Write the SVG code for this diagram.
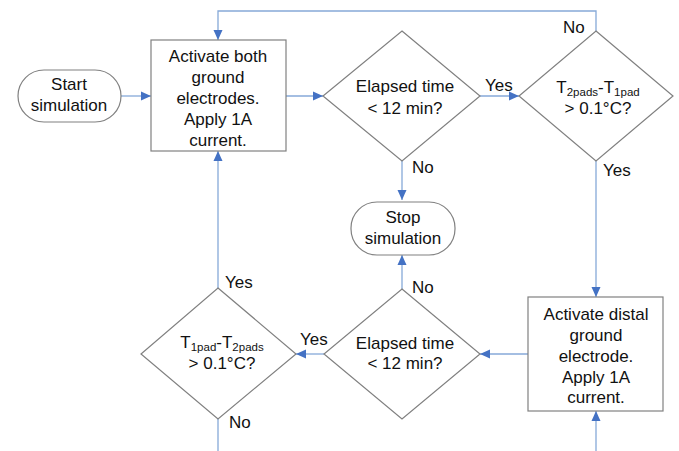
<svg xmlns="http://www.w3.org/2000/svg" width="679" height="451" viewBox="0 0 679 451">
<style>
.node{fill:#fff;stroke:#808080;stroke-width:1.2}
.t{font-family:"Liberation Sans",Arial,sans-serif;font-size:17px;fill:#111;text-anchor:middle}
.lbl{font-family:"Liberation Sans",Arial,sans-serif;font-size:17px;fill:#111}
.sub{font-size:11.5px}
.c{fill:none;stroke:#86a9d8;stroke-width:1.3}
</style>
<defs>
<marker id="ah" markerUnits="userSpaceOnUse" markerWidth="10" markerHeight="10" viewBox="0 0 10 10" refX="10" refY="5" orient="auto">
<path d="M0,0.5 L10,5 L0,9.5 Z" fill="#4472c4"/>
</marker>
</defs>
<rect width="679" height="451" fill="#fff"/>
<g id="connectors">
<path class="c" d="M121,96 H151" marker-end="url(#ah)"/>
<path class="c" d="M286,96 H323" marker-end="url(#ah)"/>
<path class="c" d="M480,96 H519" marker-end="url(#ah)"/>
<path class="c" d="M596,31 V11 H218 V40" marker-end="url(#ah)"/>
<path class="c" d="M402,161 V200" marker-end="url(#ah)"/>
<path class="c" d="M596,161 V297" marker-end="url(#ah)"/>
<path class="c" d="M402,289 V255" marker-end="url(#ah)"/>
<path class="c" d="M528,354 H480" marker-end="url(#ah)"/>
<path class="c" d="M324,354 H296" marker-end="url(#ah)"/>
<path class="c" d="M218,288 V151" marker-end="url(#ah)"/>
<path class="c" d="M218,419 V451"/>
<path class="c" d="M596,451 V411" marker-end="url(#ah)"/>
</g>
<g id="start">
<rect class="node" x="18" y="70" width="103" height="52" rx="26" ry="26"/>
<text class="t" x="69" y="90">Start</text>
<text class="t" x="69" y="111">simulation</text>
</g>
<g id="activate-both">
<rect class="node" x="151" y="40" width="135" height="111"/>
<text class="t" x="218" y="62">Activate both</text>
<text class="t" x="218" y="83">ground</text>
<text class="t" x="218" y="104">electrodes.</text>
<text class="t" x="218" y="125">Apply 1A</text>
<text class="t" x="218" y="146">current.</text>
</g>
<g id="elapsed-1">
<polygon class="node" points="402,31 480,96 402,161 323,96"/>
<text class="t" x="405" y="92">Elapsed time</text>
<text class="t" x="405" y="114">&lt; 12 min?</text>
</g>
<g id="temp-1">
<polygon class="node" points="596,31 673,96 596,161 519,96"/>
<text class="t" x="598" y="93">T<tspan class="sub" dy="3">2pads</tspan><tspan dy="-3">-T</tspan><tspan class="sub" dy="3">1pad</tspan></text>
<text class="t" x="598" y="114">&gt; 0.1°C?</text>
</g>
<g id="stop">
<rect class="node" x="351" y="202" width="104" height="53" rx="26" ry="26"/>
<text class="t" x="403" y="223">Stop</text>
<text class="t" x="403" y="244">simulation</text>
</g>
<g id="activate-distal">
<rect class="node" x="528" y="297" width="135" height="114"/>
<text class="t" x="596" y="320">Activate distal</text>
<text class="t" x="596" y="341">ground</text>
<text class="t" x="596" y="362">electrode.</text>
<text class="t" x="596" y="383">Apply 1A</text>
<text class="t" x="596" y="403">current.</text>
</g>
<g id="elapsed-2">
<polygon class="node" points="402,289 480,354 402,419 324,354"/>
<text class="t" x="405" y="349">Elapsed time</text>
<text class="t" x="405" y="369">&lt; 12 min?</text>
</g>
<g id="temp-2">
<polygon class="node" points="218,288 296,354 218,419 141,354"/>
<text class="t" x="222" y="348">T<tspan class="sub" dy="3">1pad</tspan><tspan dy="-3">-T</tspan><tspan class="sub" dy="3">2pads</tspan></text>
<text class="t" x="222" y="369">&gt; 0.1°C?</text>
</g>
<g id="labels">
<text class="lbl" x="485" y="91">Yes</text>
<text class="lbl" x="563" y="33">No</text>
<text class="lbl" x="603" y="176">Yes</text>
<text class="lbl" x="412" y="173">No</text>
<text class="lbl" x="412" y="293">No</text>
<text class="lbl" x="300" y="345">Yes</text>
<text class="lbl" x="225" y="288">Yes</text>
<text class="lbl" x="229" y="428">No</text>
</g>
</svg>
